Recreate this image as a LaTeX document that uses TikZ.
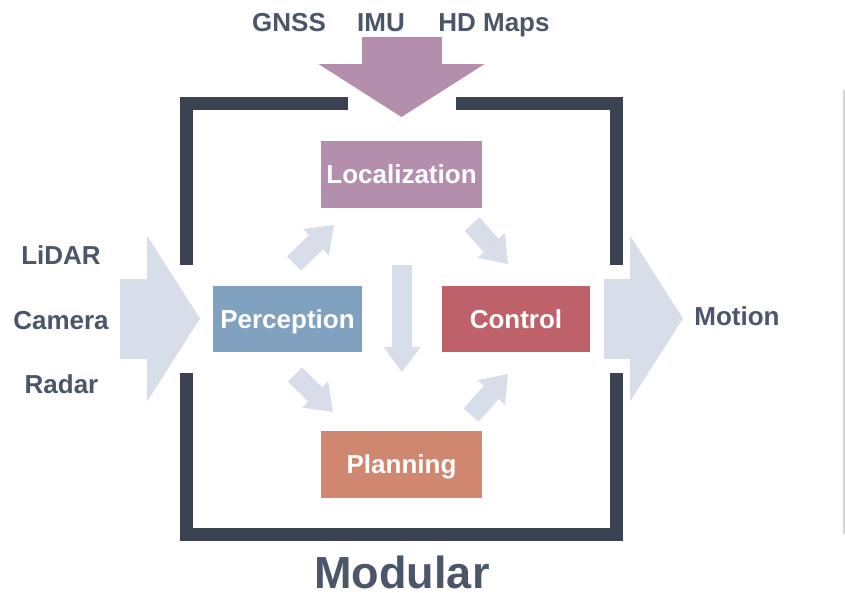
\documentclass[tikz,border=0pt]{standalone}
\usepackage{fontspec}
\setmainfont{Liberation Sans}
\usetikzlibrary{arrows.meta}
\definecolor{framec}{HTML}{3B4252}
\definecolor{textc}{HTML}{4C566A}
\definecolor{lightc}{HTML}{D8DEE9}
\definecolor{locc}{HTML}{B48EAD}
\definecolor{percc}{HTML}{81A1C1}
\definecolor{ctrlc}{HTML}{BF616A}
\definecolor{planc}{HTML}{D08770}
\definecolor{sidec}{HTML}{D4D4D8}
\tikzset{
  module/.style={fill=#1, draw=none, inner sep=0pt, outer sep=0pt, text=white,
    font=\bfseries\fontsize{26}{30}\selectfont, text height=18.6pt, text depth=0pt},
  lbl/.style={text=textc, font=\bfseries\fontsize{26}{30}\selectfont, anchor=base, inner sep=0pt},
  frameline/.style={draw=framec, line width=13pt, line cap=butt, line join=miter},
  smallarrow/.style={draw=lightc, line width=20pt, line cap=butt,
    -{Triangle[length=25pt, width=37pt, line width=0pt, fill=lightc]}},
  bigarrow/.style={draw=#1, line width=80pt, line cap=butt,
    -{Triangle[length=53pt, width=166pt, line width=0pt, fill=#1]}},
}
\begin{document}
\begin{tikzpicture}[x=1pt, y=-1pt]
\useasboundingbox (0,0) rectangle (845,592);
\fill[white] (0,0) rectangle (845,592);

% frame
\draw[frameline] (348,103.5) -- (186.5,103.5) -- (186.5,265);
\draw[frameline] (456,103.5) -- (616.5,103.5) -- (616.5,265);
\draw[frameline] (186.5,373) -- (186.5,534.5) -- (616.5,534.5) -- (616.5,373);

% modules
\node[module=locc, minimum width=161pt, minimum height=67pt] (loc) at (401.5,174.5) {Localization};
\node[module=percc, minimum width=149pt, minimum height=66pt] (perc) at (287.5,319) {Perception};
\node[module=ctrlc, minimum width=148pt, minimum height=66pt] (ctrl) at (516,319) {Control};
\node[module=planc, minimum width=161pt, minimum height=67pt] (plan) at (401.5,464) {Planning};

% input / output labels
\node[lbl] (gnss) at (289,31) {GNSS};
\node[lbl] (imu) at (381,31) {IMU};
\node[lbl] (hdmaps) at (494,31) {HD Maps};
\node[lbl] (lidar) at (61,264) {LiDAR};
\node[lbl] (camera) at (61,329) {Camera};
\node[lbl] (radar) at (61.5,393) {Radar};
\node[lbl] (motion) at (737,325) {Motion};
\node[lbl, font=\bfseries\fontsize{45}{50}\selectfont] (modular) at (402,588) {Modular};

% connector end points
\coordinate (topS) at (401.5,37);
\coordinate (topE) at (401.5,117);
\coordinate (leftS) at (120,318.5);
\coordinate (leftE) at (200,318.5);
\coordinate (rightS) at (604,318.5);
\coordinate (rightE) at (683,318.5);
\coordinate (a1s) at (294,263.5);
\coordinate (a1e) at (334,225);
\coordinate (a2s) at (472,224);
\coordinate (a2e) at (508,264);
\coordinate (a3s) at (295,374.5);
\coordinate (a3e) at (333,412);
\coordinate (a4s) at (471,415);
\coordinate (a4e) at (508,374);
\coordinate (a5s) at (402,265);
\coordinate (a5e) at (402,372);

% big arrows
\draw[bigarrow=locc] (topS) -- (topE);
\draw[bigarrow=lightc] (leftS) -- (leftE);
\draw[bigarrow=lightc] (rightS) -- (rightE);

% internal arrows
\draw[smallarrow] (a1s) -- (a1e);
\draw[smallarrow] (a2s) -- (a2e);
\draw[smallarrow] (a3s) -- (a3e);
\draw[smallarrow] (a4s) -- (a4e);
\draw[smallarrow] (a5s) -- (a5e);

% side rule
\coordinate (sideT) at (844,90);
\coordinate (sideB) at (844,534);
\draw[sidec, line width=1.5pt] (sideT) -- (sideB);
\end{tikzpicture}
\end{document}
